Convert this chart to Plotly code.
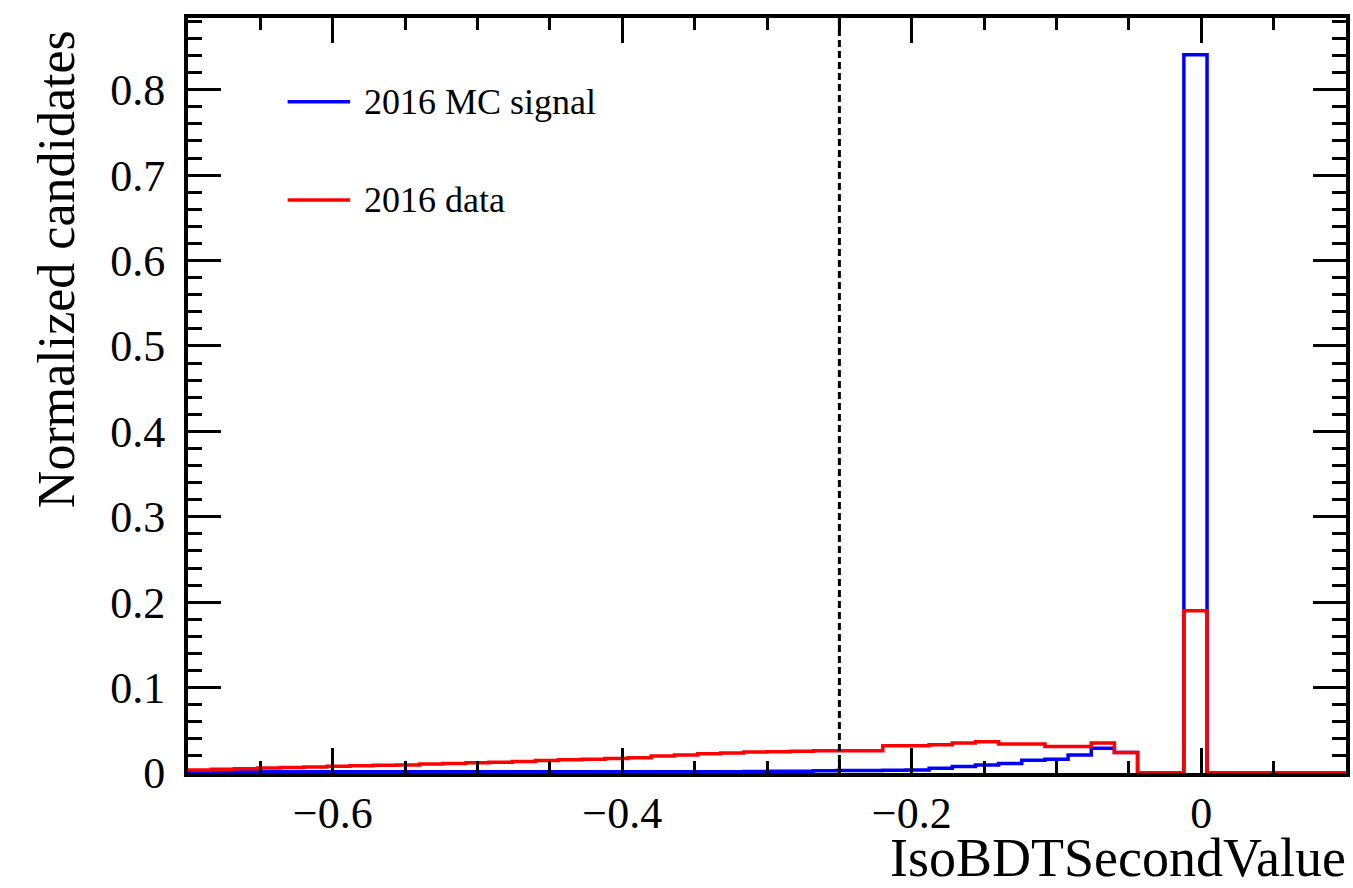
import plotly.graph_objects as go

# Binning: 50 bins from -0.7 to 0.1
x_lo = -0.7
bin_w = 0.016
n_bins = 50

mc_signal = [0.0015, 0.0015, 0.0015, 0.0015, 0.0015, 0.0015, 0.0015, 0.0015, 0.0015, 0.0015,
             0.0015, 0.0015, 0.0015, 0.0015, 0.0015, 0.0015, 0.0015, 0.0015, 0.0015, 0.0015,
             0.0015, 0.0015, 0.0015, 0.0015, 0.0018, 0.002, 0.002, 0.0025, 0.003, 0.003,
             0.0033, 0.0035, 0.0055, 0.0075, 0.0095, 0.011, 0.015, 0.016, 0.021, 0.029,
             0.024, 0.0, 0.0, 0.841, 0.0, 0.0, 0.0, 0.0, 0.0, 0.0]

data_2016 = [0.0035, 0.0045, 0.005, 0.006, 0.0065, 0.007, 0.008, 0.0085, 0.009, 0.0095,
             0.0105, 0.011, 0.012, 0.0125, 0.0135, 0.0145, 0.0155, 0.016, 0.017, 0.018,
             0.020, 0.021, 0.0225, 0.0235, 0.0245, 0.025, 0.0255, 0.026, 0.026, 0.026,
             0.032, 0.032, 0.033, 0.035, 0.0366, 0.034, 0.034, 0.031, 0.031, 0.035,
             0.024, 0.0, 0.0, 0.19, 0.0, 0.0, 0.0, 0.0, 0.0, 0.0]

cut_value = -0.25
x_ticks = [-0.6, -0.4, -0.2, 0]
y_ticks = [0, 0.1, 0.2, 0.3, 0.4, 0.5, 0.6, 0.7, 0.8]

edges = [x_lo + bin_w * i for i in range(n_bins + 1)]

FONT = "Liberation Serif, Times New Roman, serif"

fig = go.Figure()
for vals, color, name in [(mc_signal, "#0000ff", "2016 MC signal"), (data_2016, "#ff0000", "2016 data")]:
    fig.add_trace(go.Scatter(
        x=edges, y=list(vals) + [vals[-1]], mode="lines", name=name,
        line=dict(color=color, width=3.5, shape="hv"), showlegend=False,
    ))

# dashed cut line
fig.add_shape(type="line", xref="x", yref="paper", x0=cut_value, x1=cut_value, y0=0, y1=1,
              line=dict(color="black", width=3, dash="7px,4px"))

# manual legend
leg = [("2016 MC signal", "#0000ff", 0.889), ("2016 data", "#ff0000", 0.759)]
for txt, col, yy in leg:
    fig.add_shape(type="line", xref="paper", yref="paper", x0=0.086, x1=0.140, y0=yy, y1=yy,
                  line=dict(color=col, width=3.5))
    fig.add_annotation(xref="paper", yref="paper", x=0.1505, y=yy, xanchor="left", yanchor="middle",
                       text=txt, showarrow=False, font=dict(family=FONT, size=36, color="black"))

# axis titles
fig.add_annotation(xref="paper", yref="paper", x=1.002, y=-0.113, xanchor="right", yanchor="middle",
                   text="IsoBDTSecondValue", showarrow=False, font=dict(family=FONT, size=54, color="black"))
fig.add_annotation(xref="paper", yref="paper", x=-0.1135, y=0.986, xanchor="center", yanchor="top",
                   text="Normalized candidates", textangle=-90, showarrow=False,
                   font=dict(family=FONT, size=52, color="black"))

fig.update_layout(
    width=1353, height=888,
    margin=dict(l=188, r=3, t=18, b=115),
    paper_bgcolor="white", plot_bgcolor="white",
    font=dict(family=FONT, size=44, color="black"),
)
fig.update_xaxes(
    range=[-0.7, 0.1], tickvals=x_ticks, ticks="inside", ticklen=25, tickwidth=3, tickcolor="black",
    showline=True, linewidth=4, linecolor="black", mirror="allticks", showgrid=False, zeroline=False,
    ticklabelstandoff=-2,
    minor=dict(ticks="inside", dtick=0.05, tick0=0, ticklen=12, tickwidth=3, tickcolor="black", showgrid=False),
)
fig.update_yaxes(
    range=[0, 0.884], tickvals=y_ticks, ticks="inside", ticklen=33, tickwidth=3, tickcolor="black",
    showline=True, linewidth=4, linecolor="black", mirror="allticks", showgrid=False, zeroline=False,
    ticklabelstandoff=10,
    minor=dict(ticks="inside", dtick=0.02, tick0=0, ticklen=14, tickwidth=3, tickcolor="black", showgrid=False),
)

fig.write_html("out.html")
